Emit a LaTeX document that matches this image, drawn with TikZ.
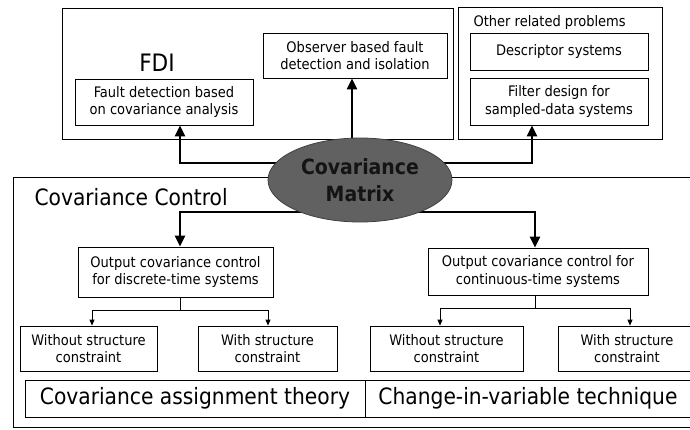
\documentclass[tikz,border=0pt]{standalone}
\usepackage{fontspec}
\setmainfont{DejaVu Sans Condensed}
\usetikzlibrary{arrows.meta,calc,shapes.geometric,backgrounds}
\begin{document}
\begin{tikzpicture}[x=1pt,y=-1pt,
  box/.style={draw, line width=0.8pt, align=center, inner sep=0pt,
    font=\fontsize{14.5}{17.5}\selectfont},
  bigtext/.style={draw, line width=0.8pt, inner sep=0pt,
    font=\fontsize{22.5}{26}\selectfont},
  frame/.style={draw, line width=0.7pt, inner sep=0pt},
  big/.style={line width=2.4pt, -{Triangle[length=11pt,width=10pt]}},
  small/.style={line width=0.8pt, -{Triangle[length=6pt,width=5pt]}},
]
\useasboundingbox (0,0) rectangle (690,429);
\clip (0,0) rectangle (690,429);

% outer frames
\node[frame, minimum width=391pt, minimum height=131pt] (fdi) at (257.5,73.5) {};
\node[frame, minimum width=204pt, minimum height=132pt] (orpf) at (560,73) {};
\node[frame, minimum width=707pt, minimum height=250pt] (ccf) at (366.5,302) {};

% labels
\node[font=\fontsize{24}{28}\selectfont] (fdilab) at (157,63) {FDI};
\node[font=\fontsize{14.5}{17}\selectfont, anchor=west] (orplab) at (470,22) {Other related problems};
\node[font=\fontsize{22.5}{26}\selectfont, anchor=west] (cclab) at (31,197) {Covariance Control};

% inner boxes
\node[box, minimum width=178pt, minimum height=46pt] (fd) at (164,102) {Fault detection based\\on covariance analysis};
\node[box, minimum width=184pt, minimum height=45pt] (obs) at (355,55.5) {Observer based fault\\detection and isolation};
\node[box, minimum width=178pt, minimum height=37pt] (desc) at (559,51.5) {Descriptor systems};
\node[box, minimum width=178pt, minimum height=47pt] (filt) at (559,101.5) {Filter design for\\sampled-data systems};
\node[box, minimum width=195pt, minimum height=50pt] (disc) at (175.5,272) {Output covariance control\\for discrete-time systems};
\node[box, minimum width=220pt, minimum height=47pt] (cont) at (538,271.5) {Output covariance control for\\continuous-time systems};
\node[box, minimum width=137pt, minimum height=45pt] (wol) at (88.5,348.5) {Without structure\\constraint};
\node[box, minimum width=139pt, minimum height=45pt] (wil) at (267.5,348.5) {With structure\\constraint};
\node[box, minimum width=153pt, minimum height=45pt] (wor) at (446.5,348.5) {Without structure\\constraint};
\node[box, minimum width=138pt, minimum height=45pt] (wir) at (627,348.5) {With structure\\constraint};
\node[bigtext, minimum width=340pt, minimum height=37pt] (cat) at (195,398.5) {Covariance assignment theory};
\node[bigtext, minimum width=326pt, minimum height=37pt] (civ) at (528,398.5) {Change-in-variable technique};

% ellipse
\node[ellipse, fill=black!62, draw=black!75, line width=0.8pt, minimum width=184pt, minimum height=84pt,
  inner sep=0pt, align=center, text=black!92, font=\bfseries\fontsize{21}{27}\selectfont] (ell) at (360,180) {Covariance\\Matrix};

\begin{scope}[on background layer]
\fill[white] (0,0) rectangle (690,429);
\draw[big] ($(ell.center)+(-8,0)$) -- ($(obs.south)+(-3,0)$);
\draw[big] ($(ell.center)+(0,-17)$) -| ($(fd.south)+(16,0)$);
\draw[big] ($(ell.center)+(0,-17)$) -| ($(filt.south)+(-27,0)$);
\draw[big] ($(ell.center)+(0,32)$) -| ($(disc.north)+(4.5,0)$);
\draw[big] ($(ell.center)+(0,32)$) -| ($(cont.north)+(-3,0)$);
\end{scope}

% thin trees
\draw[small] ($(disc.south)+(4.5,0)$) -- ++(0,13) -| ($(wol.north)+(3.5,0)$);
\draw[small] ($(disc.south)+(4.5,0)$) -- ++(0,13) -| ($(wil.north)+(0.5,0)$);
\draw[small] ($(cont.south)+(-3,0)$) -- ++(0,13) -| ($(wor.north)+(-6.5,0)$);
\draw[small] ($(cont.south)+(-3,0)$) -- ++(0,13) -| ($(wir.north)+(3,0)$);
\end{tikzpicture}
\end{document}
